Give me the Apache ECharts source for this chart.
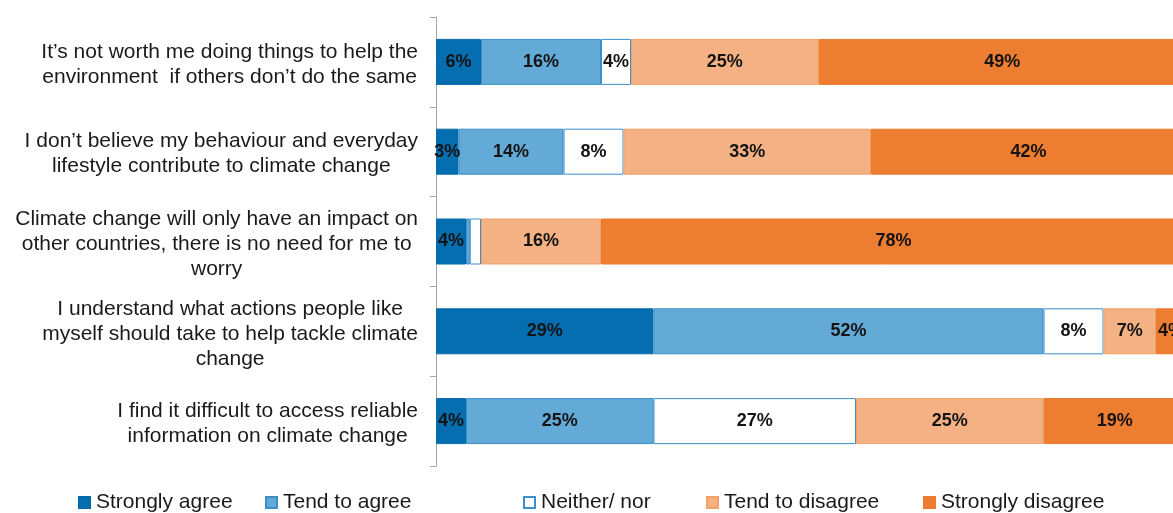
<!DOCTYPE html>
<html>
<head>
<meta charset="utf-8">
<script src="https://cdn.jsdelivr.net/npm/echarts@6/dist/echarts.min.js"></script>
<style>
  html, body { margin: 0; padding: 0; background: #ffffff; }
  #chart { width: 1173px; height: 513px; }
</style>
</head>
<body>
<div id="chart"></div>
<script>
// Survey statements (top to bottom)
const statements = [
  "It\u2019s not worth me doing things to help the\nenvironment  if others don\u2019t do the same",
  "I don\u2019t believe my behaviour and everyday\nlifestyle contribute to climate change",
  "Climate change will only have an impact on\nother countries, there is no need for me to\nworry",
  "I understand what actions people like\nmyself should take to help tackle climate\nchange",
  "I find it difficult to access reliable\ninformation on climate change"
];

// Response shares (%) per statement
const stronglyAgree    = [6, 3, 4, 29, 4];
const tendToAgree      = [16, 14, 0.5, 52, 25];
const neitherNor       = [4, 8, 1.5, 8, 27];
const tendToDisagree   = [25, 33, 16, 7, 25];
const stronglyDisagree = [49, 42, 78, 4, 19];

const responseNames = ["Strongly agree", "Tend to agree", "Neither/ nor", "Tend to disagree", "Strongly disagree"];

const styles = [
  { color: "#046EB0", borderColor: "#056AAA" },
  { color: "#64AAD6", borderColor: "#3B8FCB" },
  { color: "#FFFFFF", borderColor: "#3B8FCB" },
  { color: "#F4B183", borderColor: "#F2A068" },
  { color: "#ED7D31", borderColor: "#EB7A2E" }
];

const seriesData = [stronglyAgree, tendToAgree, neitherNor, tendToDisagree, stronglyDisagree];

const FONT = "'Liberation Sans', Arial, sans-serif";

const series = seriesData.map((values, i) => ({
  name: responseNames[i],
  type: "bar",
  stack: "total",
  barWidth: 46,
  data: values,
  itemStyle: {
    color: styles[i].color,
    borderColor: styles[i].borderColor,
    borderWidth: 1
  },
  label: {
    show: true,
    position: "inside",
    formatter: p => (p.value >= 2 ? p.value + "%" : ""),
    color: "#141414",
    fontFamily: FONT,
    fontWeight: "bold",
    fontSize: 18
  },
  emphasis: { disabled: true }
}));

// Legend entries placed individually along the bottom row
const legendLeft = [78, 265, 523, 706, 923];
const legends = responseNames.map((name, i) => ({
  data: [name],
  left: legendLeft[i],
  top: 492,
  icon: "rect",
  itemWidth: 11,
  itemHeight: 11,
  itemGap: 0,
  padding: 0,
  selectedMode: false,
  textStyle: { fontFamily: FONT, fontSize: 21, color: "#1a1a1a", padding: [0, 0, 0, 1] }
}));

const chart = echarts.init(document.getElementById("chart"), null, { renderer: "canvas" });
chart.setOption({
  animation: false,
  backgroundColor: "#ffffff",
  // the 100% scale runs slightly past the right edge of the canvas
  grid: { left: 436, top: 17, width: 750, height: 449, containLabel: false, outerBoundsMode: "none" },
  legend: legends,
  xAxis: {
    type: "value",
    min: 0,
    max: 100,
    show: false
  },
  yAxis: {
    type: "category",
    inverse: true,
    data: statements,
    axisLine: { show: true, lineStyle: { color: "#a6a6a6", width: 1 } },
    axisTick: { show: true, length: 6, lineStyle: { color: "#a6a6a6" } },
    splitLine: { show: false },
    axisLabel: {
      margin: 18,
      align: "right",
      padding: [5, 0, 0, 0],
      // each line is centred inside the right-aligned label block
      formatter: v => v.split("\n").map(line => "{c|" + line + "}").join("\n"),
      rich: {
        c: {
          align: "center",
          fontFamily: FONT,
          fontSize: 21,
          lineHeight: 25,
          color: "#1a1a1a"
        }
      }
    }
  },
  series: series
});
</script>
</body>
</html>
